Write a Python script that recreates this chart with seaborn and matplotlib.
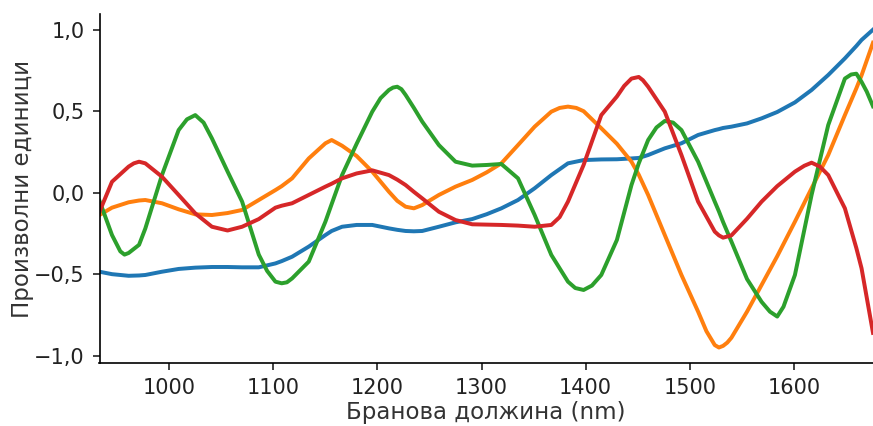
import matplotlib
matplotlib.use("Agg")
import matplotlib.pyplot as plt
from matplotlib.ticker import FuncFormatter
import pandas as pd
import seaborn as sns

# Spectra: wavelength (nm) and intensity in arbitrary units, one pair of lists per curve
wl_blue = [933, 945, 961, 971, 977, 993, 1009, 1025, 1041, 1056,
           1070, 1086, 1102, 1108, 1118, 1134, 1150, 1156, 1166, 1180,
           1195, 1211, 1219, 1227, 1235, 1243, 1259, 1275, 1291, 1305,
           1319, 1335, 1351, 1367, 1383, 1398, 1415, 1430, 1444, 1451,
           1460, 1476, 1492, 1508, 1524, 1528, 1532, 1540, 1555, 1569,
           1584, 1601, 1617, 1633, 1649, 1660, 1665, 1676]
val_blue = [-0.485, -0.50, -0.51, -0.508, -0.505, -0.485, -0.468, -0.46, -0.456, -0.456,
            -0.458, -0.458, -0.434, -0.42, -0.393, -0.331, -0.26, -0.235, -0.209, -0.198,
            -0.198, -0.219, -0.228, -0.235, -0.237, -0.235, -0.209, -0.182, -0.162, -0.132,
            -0.096, -0.045, 0.027, 0.108, 0.18, 0.20, 0.204, 0.205, 0.21, 0.213,
            0.231, 0.272, 0.303, 0.354, 0.384, 0.39, 0.397, 0.405, 0.425, 0.456,
            0.495, 0.554, 0.63, 0.722, 0.824, 0.90, 0.937, 1.0]

wl_orange = [933, 945, 961, 971, 977, 993, 1009, 1025, 1041, 1056,
             1070, 1086, 1102, 1108, 1118, 1134, 1150, 1156, 1166, 1180,
             1195, 1211, 1219, 1227, 1235, 1243, 1259, 1275, 1291, 1305,
             1319, 1335, 1351, 1367, 1375, 1383, 1391, 1398, 1415, 1430,
             1444, 1451, 1460, 1476, 1492, 1508, 1516, 1524, 1528, 1532,
             1536, 1540, 1555, 1569, 1584, 1601, 1617, 1633, 1649, 1660,
             1665, 1676]
val_orange = [-0.137, -0.092, -0.059, -0.048, -0.045, -0.065, -0.102, -0.133, -0.137, -0.125,
              -0.106, -0.045, 0.016, 0.04, 0.088, 0.21, 0.303, 0.323, 0.288, 0.225,
              0.129, 0.006, -0.05, -0.086, -0.096, -0.076, -0.014, 0.037, 0.078, 0.125,
              0.18, 0.292, 0.405, 0.497, 0.52, 0.528, 0.52, 0.50, 0.395, 0.30,
              0.19, 0.11, -0.014, -0.26, -0.505, -0.73, -0.85, -0.935, -0.95, -0.94,
              -0.92, -0.89, -0.73, -0.566, -0.39, -0.178, 0.027, 0.231, 0.476, 0.64,
              0.72, 0.92]

wl_green = [933, 945, 953, 957, 961, 971, 977, 993, 1009, 1017,
            1025, 1033, 1041, 1056, 1070, 1086, 1094, 1102, 1108, 1113,
            1118, 1134, 1150, 1156, 1166, 1180, 1195, 1203, 1211, 1215,
            1219, 1223, 1227, 1235, 1243, 1259, 1275, 1291, 1305, 1319,
            1335, 1351, 1367, 1383, 1390, 1398, 1406, 1415, 1430, 1444,
            1451, 1460, 1468, 1476, 1484, 1492, 1508, 1524, 1528, 1532,
            1540, 1555, 1569, 1577, 1584, 1590, 1601, 1617, 1633, 1649,
            1655, 1660, 1665, 1670, 1676]
val_green = [-0.05, -0.26, -0.36, -0.38, -0.37, -0.32, -0.22, 0.108, 0.384, 0.45,
             0.476, 0.43, 0.333, 0.13, -0.055, -0.38, -0.48, -0.546, -0.556, -0.55,
             -0.526, -0.423, -0.178, -0.07, 0.108, 0.30, 0.497, 0.58, 0.63, 0.645,
             0.65, 0.635, 0.60, 0.52, 0.436, 0.292, 0.19, 0.166, 0.17, 0.176,
             0.088, -0.137, -0.382, -0.546, -0.585, -0.597, -0.57, -0.505, -0.29, 0.047,
             0.18, 0.323, 0.40, 0.44, 0.43, 0.384, 0.19, -0.055, -0.115, -0.18,
             -0.30, -0.53, -0.67, -0.73, -0.76, -0.70, -0.505, -0.014, 0.415, 0.70,
             0.725, 0.73, 0.68, 0.62, 0.53]

wl_red = [933, 945, 961, 966, 971, 977, 993, 1009, 1025, 1041,
          1056, 1070, 1086, 1102, 1108, 1118, 1134, 1150, 1156, 1166,
          1180, 1195, 1211, 1219, 1227, 1235, 1243, 1259, 1275, 1291,
          1305, 1319, 1335, 1351, 1367, 1375, 1383, 1398, 1415, 1430,
          1437, 1444, 1451, 1455, 1460, 1476, 1492, 1508, 1524, 1528,
          1532, 1540, 1555, 1569, 1584, 1601, 1610, 1617, 1625, 1633,
          1649, 1660, 1665, 1676]
val_red = [-0.117, 0.067, 0.16, 0.18, 0.19, 0.18, 0.098, -0.014, -0.127, -0.209,
           -0.232, -0.209, -0.162, -0.092, -0.08, -0.065, -0.014, 0.037, 0.055, 0.088,
           0.118, 0.137, 0.108, 0.08, 0.047, 0.005, -0.035, -0.117, -0.168, -0.194,
           -0.196, -0.198, -0.202, -0.209, -0.198, -0.15, -0.055, 0.17, 0.476, 0.59,
           0.655, 0.70, 0.71, 0.69, 0.65, 0.497, 0.231, -0.055, -0.239, -0.262,
           -0.276, -0.262, -0.16, -0.055, 0.04, 0.129, 0.165, 0.184, 0.16, 0.108,
           -0.096, -0.34, -0.464, -0.86]

series_names = ["A", "B", "C", "D"]
series_wl = [wl_blue, wl_orange, wl_green, wl_red]
series_val = [val_blue, val_orange, val_green, val_red]
series_colors = ["#1f77b4", "#ff7f0e", "#2ca02c", "#d62728"]

frames = [pd.DataFrame({"wl": w, "val": v, "series": n})
          for n, w, v in zip(series_names, series_wl, series_val)]
df = pd.concat(frames, ignore_index=True)

plt.rcParams["lines.solid_joinstyle"] = "round"

fig = plt.figure(figsize=(873 / 150, 426 / 150), dpi=150)
ax = fig.add_axes([99.5 / 873, 1 - 363.4 / 426, 1 - 99.5 / 873, (363.4 - 13.8) / 426])

sns.lineplot(data=df, x="wl", y="val", hue="series", hue_order=series_names,
             palette=series_colors, linewidth=1.9, legend=False, ax=ax,
             estimator=None, sort=True)

ax.set_xlim(min(wl_blue), max(wl_blue))
ax.set_xticks([1000, 1100, 1200, 1300, 1400, 1500, 1600])
ax.set_yticks([-1.0, -0.5, 0.0, 0.5, 1.0])
ax.yaxis.set_major_formatter(FuncFormatter(
    lambda v, _: f"{v:.1f}".replace(".", ",").replace("-", "\u2212")))
ax.tick_params(labelsize=10, colors="#222222")

ax.set_xlabel("Бранова должина (nm)", fontsize=11, color="#333333", labelpad=1.5)
ax.set_ylabel("Произволни единици", fontsize=11, color="#333333", labelpad=0)
sns.despine(ax=ax)

fig.savefig("out.png", dpi=150)
